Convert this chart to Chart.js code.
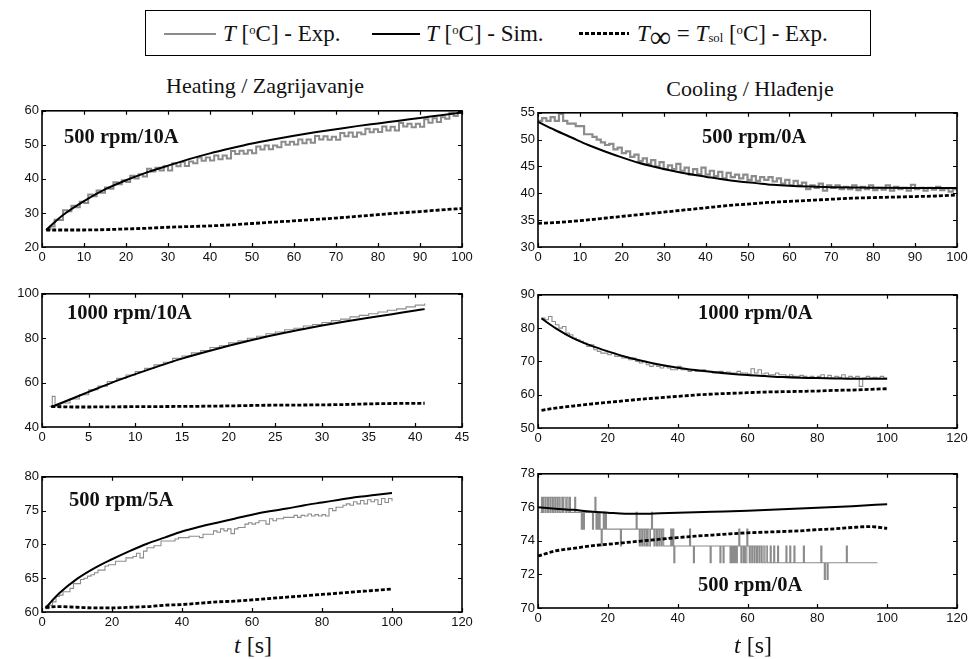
<!DOCTYPE html>
<html>
<head>
<meta charset="utf-8">
<script src="https://cdn.jsdelivr.net/npm/chart.js@4.4.1/dist/chart.umd.min.js"></script>
<style>
  body { margin: 0; background: #fff; }
  #page { position: relative; width: 976px; height: 659px; overflow: hidden; background: #fff; }
  .serif { font-family: "Liberation Serif", "DejaVu Serif", serif; color: #111; position: absolute; white-space: nowrap; line-height: 1; }
  .panel { position: absolute; }
  .tag { font-weight: bold; font-size: 20.5px; }
  .ttl { font-size: 22px; transform: translateX(-50%); }
  .axt { font-size: 24px; transform: translateX(-50%); }
  .lt { font-size: 23px; top: 11px; }
  sup.o { font-size: 0.55em; vertical-align: 0.55em; }
  sub.s { font-size: 0.55em; vertical-align: -0.1em; }
  sub.inf { font-size: 1.3em; vertical-align: -0.2em; line-height: 0; }
  #legend { position: absolute; left: 145px; top: 10px; width: 726px; height: 46px; border: 1.5px solid #000; box-sizing: border-box; }
  .lg { position: absolute; top: 22px; }
</style>
</head>
<body>
<div id="page">

  <div id="legend">
    <div class="lg" style="left:18px;width:52px;border-top:2px solid #8c8c8c"></div>
    <div class="serif lt" style="left:77px"><i>T</i> [<sup class="o">o</sup>C] - Exp.</div>
    <div class="lg" style="left:226px;width:48px;border-top:2px solid #000"></div>
    <div class="serif lt" style="left:280px"><i>T</i> [<sup class="o">o</sup>C] - Sim.</div>
    <div class="lg" style="left:433px;width:50px;height:3px;top:21px;background:repeating-linear-gradient(90deg,#000 0 4px,transparent 4px 6px)"></div>
    <div class="serif lt" style="left:491px"><i>T</i><sub class="inf">∞</sub>&nbsp;=&nbsp;<i>T</i><sub class="s">sol</sub> [<sup class="o">o</sup>C] - Exp.</div>
  </div>

  <div class="serif ttl" style="left:265px;top:75px">Heating / Zagrijavanje</div>
  <div class="serif ttl" style="left:750px;top:78px">Cooling / Hlađenje</div>

  <div class="panel" style="left:0;top:100px"><canvas id="h1" width="480" height="165"></canvas></div>
  <div class="panel" style="left:0;top:283px"><canvas id="h2" width="480" height="162"></canvas></div>
  <div class="panel" style="left:0;top:466px"><canvas id="h3" width="480" height="164"></canvas></div>
  <div class="panel" style="left:490px;top:102px"><canvas id="c1" width="486" height="163"></canvas></div>
  <div class="panel" style="left:490px;top:284px"><canvas id="c2" width="486" height="162"></canvas></div>
  <div class="panel" style="left:490px;top:463px"><canvas id="c3" width="486" height="163"></canvas></div>

  <div class="serif tag" style="left:64px;top:126px">500 rpm/10A</div>
  <div class="serif tag" style="left:67px;top:302px">1000 rpm/10A</div>
  <div class="serif tag" style="left:69px;top:489px">500 rpm/5A</div>
  <div class="serif tag" style="left:702px;top:126px">500 rpm/0A</div>
  <div class="serif tag" style="left:698px;top:302px">1000 rpm/0A</div>
  <div class="serif tag" style="left:698px;top:574px">500 rpm/0A</div>

  <div class="serif axt" style="left:253px;top:633px"><i>t</i> [s]</div>
  <div class="serif axt" style="left:753px;top:633px"><i>t</i> [s]</div>
</div>

<script>
// time stamps
const t5from1 = [1,5,10,15,20,25,30,35,40,45,50,55,60,65,70,75,80,85,90,95,100]
const t5from0 = [0,5,10,15,20,25,30,35,40,45,50,55,60,65,70,75,80,85,90,95,100]
const secs1to100 = [1,2,3,4,5,6,7,8,9,10,11,12,13,14,15,16,17,18,19,20,21,22,23,24,25,26,27,28,29,30,
  31,32,33,34,35,36,37,38,39,40,41,42,43,44,45,46,47,48,49,50,51,52,53,54,55,56,57,58,59,60,
  61,62,63,64,65,66,67,68,69,70,71,72,73,74,75,76,77,78,79,80,81,82,83,84,85,86,87,88,89,90,
  91,92,93,94,95,96,97,98,99,100]
const secs0to100 = [0].concat(secs1to100)

// Heating 500 rpm / 10A
const h1ExpV = [25.2,26.0,28.0,27.9,30.8,30.5,32.1,31.7,33.3,32.9,
  35.4,34.9,36.6,35.9,37.5,37.1,39.0,38.4,39.6,39.1,
  40.9,40.1,41.4,40.7,43.0,42.2,43.3,42.5,43.7,42.5,
  44.6,43.7,45.0,43.8,45.1,44.6,46.3,45.3,46.3,45.4,
  46.9,45.8,46.9,46.0,48.2,47.3,48.3,47.4,48.4,47.5,
  49.5,48.6,49.8,48.7,49.8,49.3,50.9,50.0,50.9,50.1,
  51.6,50.5,51.6,50.6,52.6,51.6,52.5,51.5,52.4,51.5,
  53.5,52.5,53.6,52.4,53.6,53.1,54.7,53.7,54.6,53.8,
  55.4,54.2,55.3,54.2,56.4,55.4,56.2,55.2,56.2,55.3,
  57.5,56.5,57.8,56.7,58.1,57.7,59.4,58.5,59.4,59.0]
const h1SimV = [25.0,29.4,33.5,36.9,39.6,41.9,43.9,45.8,47.5,49.0,50.4,51.6,52.7,53.7,54.6,55.5,56.3,57.1,57.9,58.7,59.5]
const h1DashV = [25.0,25.0,25.0,25.1,25.3,25.5,25.8,26.0,26.2,26.5,26.9,27.3,27.7,28.1,28.5,29.0,29.5,30.0,30.4,30.9,31.3]

// Heating 1000 rpm / 10A
const h2ExpT = [0.8,1.1,1.4,2,3,4,5,6,7,8,9,10,11,12,13,14,15,16,17,18,19,20,21,22,23,24,25,26,27,28,29,30,31,32,33,34,35,36,37,38,39,40,41]
const h2ExpV = [49.3,53.8,49.5,50.8,52.6,54.5,56.8,58.4,60.5,61.9,63.4,65.0,66.4,68.0,69.2,70.9,72.0,73.4,74.4,75.8,76.6,77.9,78.8,80.0,80.9,82.0,82.8,83.8,84.5,85.5,86.2,87.1,87.9,88.6,89.6,90.3,91.0,91.8,92.6,93.2,94.1,94.9,95.6]
const h2SimT = [1,3,5,7.5,10,12.5,15,17.5,20,22.5,25,27.5,30,32.5,35,37.5,40,41]
const h2SimV = [49.0,52.4,55.8,60.0,63.8,67.4,70.8,73.8,76.6,79.2,81.6,83.7,85.7,87.5,89.2,90.8,92.5,93.1]
const h2DashT = [1,4,8,12,16,20,24,28,32,36,41]
const h2DashV = [49.2,49.0,49.1,49.2,49.3,49.5,49.8,49.9,50.1,50.5,50.7]

// Heating 500 rpm / 5A
const h3ExpV = [60.5,61.0,61.5,62.3,62.5,63.0,63.0,63.5,64.2,64.2,
  64.8,65.0,65.3,65.5,65.8,66.2,66.2,66.8,67.0,67.0,
  67.5,67.5,67.5,68.0,68.0,68.2,68.7,68.0,69.0,69.5,
  69.5,69.8,69.8,70.5,70.5,70.5,70.5,70.8,71.0,71.0,
  71.0,71.2,71.2,71.2,71.0,71.5,71.5,71.5,72.0,71.8,
  72.3,72.0,72.3,71.6,72.3,72.5,72.5,73.0,73.2,73.0,
  73.2,73.5,73.5,73.0,73.8,73.5,73.8,73.8,74.0,74.0,
  74.0,74.3,74.0,74.3,74.2,74.5,74.2,74.4,74.2,74.4,
  74.2,75.3,75.0,75.5,75.5,75.8,76.0,75.8,76.3,76.0,
  76.5,76.0,76.6,76.3,76.6,75.9,76.8,76.2,76.8,76.4]
const h3SimV = [60.6,62.8,64.9,66.5,67.8,69.0,70.1,71.0,71.9,72.6,73.2,73.8,74.4,74.9,75.3,75.8,76.2,76.6,77.0,77.3,77.6]
const h3DashV = [60.7,60.8,60.7,60.6,60.6,60.7,60.8,61.0,61.1,61.3,61.5,61.6,61.8,62.0,62.2,62.4,62.6,62.8,63.0,63.2,63.4]

// Cooling 500 rpm / 0A
const c1ExpV = [53.5,54.0,53.5,54.2,53.5,54.8,53.5,53.0,53.0,52.5,
  52.5,51.0,51.0,50.5,50.0,49.5,49.0,49.2,48.2,48.5,
  47.5,47.8,46.8,47.2,46.0,46.5,45.5,46.2,45.0,45.8,
  44.5,45.2,44.5,45.5,44.2,44.8,43.5,44.5,43.6,44.8,
  43.5,44.2,43.2,44.0,42.8,43.8,43.0,43.5,42.8,43.5,
  42.5,43.2,42.3,43.0,42.5,43.0,42.2,42.8,41.8,42.5,
  41.5,42.3,41.5,42.0,40.8,41.5,41.0,41.8,40.5,41.5,
  41.0,41.5,40.8,41.2,40.8,41.5,40.6,41.2,40.8,41.5,
  40.6,41.0,40.7,41.5,40.5,41.2,40.8,41.0,40.5,41.6,
  40.8,41.0,40.5,41.0,40.7,41.2,40.6,40.9,40.3,40.8,40.5]
const c1SimT = [0,4,8,12,16,20,24,28,32,36,40,44,48,52,56,60,65,70,80,90,100]
const c1SimV = [53.3,51.8,50.4,49.0,47.8,46.7,45.7,44.9,44.2,43.6,43.1,42.6,42.2,41.9,41.6,41.4,41.25,41.15,41.05,41.0,41.0]
const c1DashV = [34.4,34.6,34.9,35.3,35.7,36.1,36.5,36.9,37.3,37.7,38.0,38.3,38.5,38.7,38.9,39.1,39.2,39.3,39.4,39.5,39.7]

// Cooling 1000 rpm / 0A
const c2ExpV = [83.0,82.5,83.5,82.0,81.0,80.0,80.5,78.5,78.0,77.0,
  76.5,76.0,75.5,74.5,75.0,73.5,73.0,72.5,72.5,72.0,
  72.5,71.5,71.5,71.0,71.0,70.5,71.0,70.0,69.5,70.0,
  69.0,68.5,69.0,68.5,68.0,68.5,68.0,67.5,67.5,68.5,
  67.5,67.5,67.0,67.5,67.0,67.0,67.5,67.0,67.0,66.5,
  66.8,67.0,66.5,66.8,66.5,66.5,67.0,66.5,66.5,66.2,
  67.8,66.5,67.5,66.2,66.5,66.0,66.0,66.5,66.0,66.0,
  65.5,66.0,65.5,65.5,65.8,65.5,65.2,65.5,65.0,65.5,
  66.0,65.0,65.8,65.0,65.5,65.2,66.0,65.0,65.5,65.0,
  65.5,62.5,65.0,65.5,65.0,65.2,65.0,65.5,65.0,65.0]
const c2SimV = [82.9,80.0,77.0,74.8,73.0,71.4,70.1,69.0,68.1,67.4,66.8,66.3,65.9,65.6,65.3,65.1,65.0,64.9,64.8,64.8,64.8]
const c2DashV = [55.3,56.0,56.6,57.2,57.7,58.2,58.7,59.1,59.5,59.9,60.2,60.4,60.6,60.8,60.9,61.0,61.1,61.3,61.4,61.6,61.8]

// Cooling 500 rpm / 0A (second run)
const c3ExpT = [0.7,1.0,1.3,1.6,2.0,2.3,2.7,3.0,3.4,3.7,4.1,4.4,4.8,5.1,5.5,5.8,6.2,6.6,7.0,7.3,7.8,8.2,8.6,9.0,9.3,10.5,10.8,
  12.4,12.7,13.0,13.3,15.6,15.9,16.3,16.6,16.9,17.2,17.5,17.8,18.1,18.4,18.7,19.0,19.3,19.6,23.6,23.9,28.1,28.4,
  29.0,29.3,29.7,30.0,30.4,30.7,31.1,31.4,31.8,32.2,32.5,32.8,33.2,33.5,33.9,34.2,34.6,34.9,35.3,35.6,36.0,
  38.0,38.3,38.6,38.9,39.2,43.4,43.7,44.5,44.8,49.3,49.6,52.1,52.4,53.0,53.3,
  55.0,55.3,55.6,55.9,56.2,56.5,56.8,57.1,57.5,57.8,58.1,58.4,58.8,59.1,59.4,59.8,60.1,60.5,60.8,61.2,61.5,61.9,62.2,
  62.6,62.9,63.3,63.6,64.0,64.4,64.8,65.3,65.7,66.5,66.8,67.5,67.8,68.6,68.9,71.0,71.3,72.1,72.4,73.3,73.6,76.0,76.3,
  81.0,81.3,82.0,82.3,82.8,83.1,88.3,88.6,97.2]
const c3ExpV = [75.7,76.6,75.7,76.6,75.7,76.6,75.7,76.6,75.7,76.6,75.7,76.6,75.7,76.6,75.7,76.6,75.7,76.6,75.7,76.6,75.7,76.6,75.7,76.6,75.7,76.6,75.7,
  74.7,75.7,74.7,75.7,74.7,75.7,76.6,74.7,75.7,74.7,75.7,74.7,73.7,74.7,75.7,74.7,75.7,74.7,73.7,74.7,75.7,74.7,
  73.7,74.7,73.7,74.7,73.7,74.7,73.7,74.7,73.7,74.7,75.7,74.7,73.7,74.7,73.7,74.7,73.7,74.7,73.7,74.7,73.7,
  74.7,73.7,74.7,72.7,73.7,74.7,73.7,72.7,73.7,72.7,73.7,72.7,73.7,72.7,73.7,
  72.7,73.7,72.7,73.7,72.7,73.7,72.7,73.7,74.7,73.7,72.7,73.7,72.7,73.7,72.7,74.7,73.7,72.7,73.7,72.7,73.7,72.7,73.7,
  72.7,73.7,72.7,73.7,72.7,73.7,72.7,73.7,72.7,73.7,72.7,73.7,72.7,73.7,72.7,73.7,72.7,73.7,72.7,73.7,72.7,73.7,72.7,
  73.7,72.7,71.7,72.7,71.7,72.7,73.7,72.7,72.7]
const c3SimT = [0,5,10,15,20,25,30,35,40,50,60,70,80,90,100]
const c3SimV = [76.0,75.92,75.85,75.75,75.68,75.62,75.62,75.65,75.68,75.74,75.8,75.88,75.97,76.07,76.19]
const c3DashV = [73.1,73.4,73.55,73.7,73.8,73.9,74.0,74.1,74.2,74.28,74.35,74.42,74.48,74.52,74.56,74.6,74.67,74.72,74.8,74.85,74.75]

const GRAY = '#8c8c8c'
const pts = (ts, vs) => ts.map((t, i) => ({x: t, y: vs[i]}))

// box round the plot and inward ticks on all four sides
const framePlugin = {
  id: 'frame',
  afterDraw(chart) {
    const {ctx, chartArea: a, scales} = chart
    ctx.save()
    ctx.strokeStyle = '#000'
    ctx.lineWidth = 1.2
    ctx.beginPath()
    scales.x.ticks.forEach(t => {
      const px = Math.round(scales.x.getPixelForValue(t.value)) + 0.5
      ctx.moveTo(px, a.bottom); ctx.lineTo(px, a.bottom - 4)
      ctx.moveTo(px, a.top); ctx.lineTo(px, a.top + 4)
    })
    scales.y.ticks.forEach(t => {
      const py = Math.round(scales.y.getPixelForValue(t.value)) + 0.5
      ctx.moveTo(a.left, py); ctx.lineTo(a.left + 4, py)
      ctx.moveTo(a.right, py); ctx.lineTo(a.right - 4, py)
    })
    ctx.stroke()
    ctx.lineWidth = 1.6
    ctx.strokeRect(a.left, a.top, a.right - a.left, a.bottom - a.top)
    ctx.restore()
  }
}

function makePanel(id, p) {
  new Chart(document.getElementById(id), {
    type: 'line',
    data: {
      datasets: [
        {data: p.sim, borderColor: '#000', borderWidth: 2, cubicInterpolationMode: 'monotone', order: 1},
        {data: p.dash, borderColor: '#000', borderWidth: 2.8, borderDash: [4, 2], cubicInterpolationMode: 'monotone', order: 2},
        {data: p.exp, borderColor: GRAY, borderWidth: p.expWidth || 1.1, stepped: true, order: 3}
      ]
    },
    options: {
      responsive: false,
      animation: false,
      devicePixelRatio: 1,
      layout: {padding: {top: 6, right: p.padRight, left: 0, bottom: 0}},
      elements: {point: {radius: 0}, line: {tension: 0, borderCapStyle: 'butt'}},
      plugins: {legend: {display: false}, tooltip: {enabled: false}},
      scales: {
        x: {
          type: 'linear', min: 0, max: p.xMax,
          grid: {display: false, drawTicks: false}, border: {display: false},
          ticks: {stepSize: p.xStep, autoSkip: false, maxRotation: 0, padding: 3, color: '#111',
                  font: {family: 'Liberation Sans', size: 13}},
          afterFit: s => { s.height = 18 }
        },
        y: {
          min: p.yMin, max: p.yMax,
          grid: {display: false, drawTicks: false}, border: {display: false},
          ticks: {stepSize: p.yStep, autoSkip: false, padding: 3, color: '#111',
                  font: {family: 'Liberation Sans', size: 13}},
          afterFit: s => { s.width = p.yWidth }
        }
      }
    },
    plugins: [framePlugin]
  })
}

makePanel('h1', {exp: pts(secs1to100, h1ExpV), sim: pts(t5from1, h1SimV), dash: pts(t5from1, h1DashV),
  xMax: 100, xStep: 10, yMin: 20, yMax: 60, yStep: 10, yWidth: 42, padRight: 18, expWidth: 2})
makePanel('h2', {exp: pts(h2ExpT, h2ExpV), sim: pts(h2SimT, h2SimV), dash: pts(h2DashT, h2DashV),
  xMax: 45, xStep: 5, yMin: 40, yMax: 100, yStep: 20, yWidth: 42, padRight: 18})
makePanel('h3', {exp: pts(secs1to100, h3ExpV), sim: pts(t5from1, h3SimV), dash: pts(t5from1, h3DashV),
  xMax: 120, xStep: 20, yMin: 60, yMax: 80, yStep: 5, yWidth: 42, padRight: 18})
makePanel('c1', {exp: pts(secs0to100, c1ExpV), sim: pts(c1SimT, c1SimV), dash: pts(t5from0, c1DashV),
  xMax: 100, xStep: 10, yMin: 30, yMax: 55, yStep: 5, yWidth: 48, padRight: 19, expWidth: 2.2})
makePanel('c2', {exp: pts(secs1to100, c2ExpV), sim: pts(t5from1, c2SimV), dash: pts(t5from1, c2DashV),
  xMax: 120, xStep: 20, yMin: 50, yMax: 90, yStep: 10, yWidth: 48, padRight: 19})
makePanel('c3', {exp: pts(c3ExpT, c3ExpV), sim: pts(c3SimT, c3SimV), dash: pts(t5from0, c3DashV),
  xMax: 120, xStep: 20, yMin: 70, yMax: 78, yStep: 2, yWidth: 48, padRight: 19})
</script>
</body>
</html>
